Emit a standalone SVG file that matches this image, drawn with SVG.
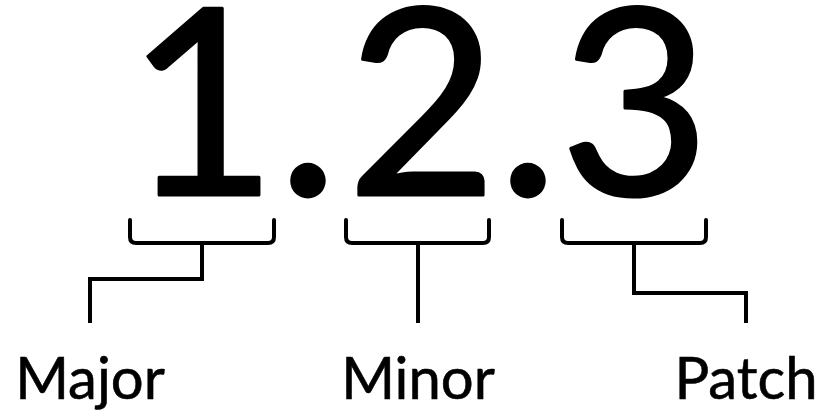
<svg xmlns="http://www.w3.org/2000/svg" width="825" height="413" viewBox="0 0 825 413">
<style>
.big{font-family:Lato,"Open Sans","DejaVu Sans",sans-serif;font-size:260px;fill:#000;stroke:#000;stroke-width:3;stroke-linejoin:round;text-anchor:middle}
.lbl{font-family:Lato,"Open Sans","DejaVu Sans",sans-serif;font-size:58px;fill:#000;stroke:#000;stroke-width:0.6;text-anchor:middle}
.ln{fill:none;stroke:#000;stroke-width:4;stroke-linejoin:miter}
.br{fill:none;stroke:#000;stroke-width:4;stroke-linecap:round}
</style>
<rect width="825" height="413" fill="#fff"/>
<g id="version">
<text class="big" x="202" y="195">1</text>
<text class="big" x="308" y="195">.</text>
<text class="big" x="422" y="195">2</text>
<text class="big" x="528" y="195">.</text>
<text class="big" x="635" y="195">3</text>
</g>
<g id="connectors">
<path class="br" d="M130 220 V237 Q130 243 136 243 H268 Q274 243 274 237 V220"/>
<path class="ln" d="M202 243 V279 H90 V323"/>
<path class="br" d="M346 220 V237 Q346 243 352 243 H483 Q489 243 489 237 V220"/>
<path class="ln" d="M418 243 V323"/>
<path class="br" d="M562 220 V237 Q562 243 568 243 H700 Q706 243 706 237 V220"/>
<path class="ln" d="M634 243 V293 H746 V323"/>
</g>
<g id="major"><text class="lbl" x="90" y="399">Major</text></g>
<g id="minor"><text class="lbl" x="418" y="399">Minor</text></g>
<g id="patch"><text class="lbl" x="746" y="399">Patch</text></g>
</svg>
